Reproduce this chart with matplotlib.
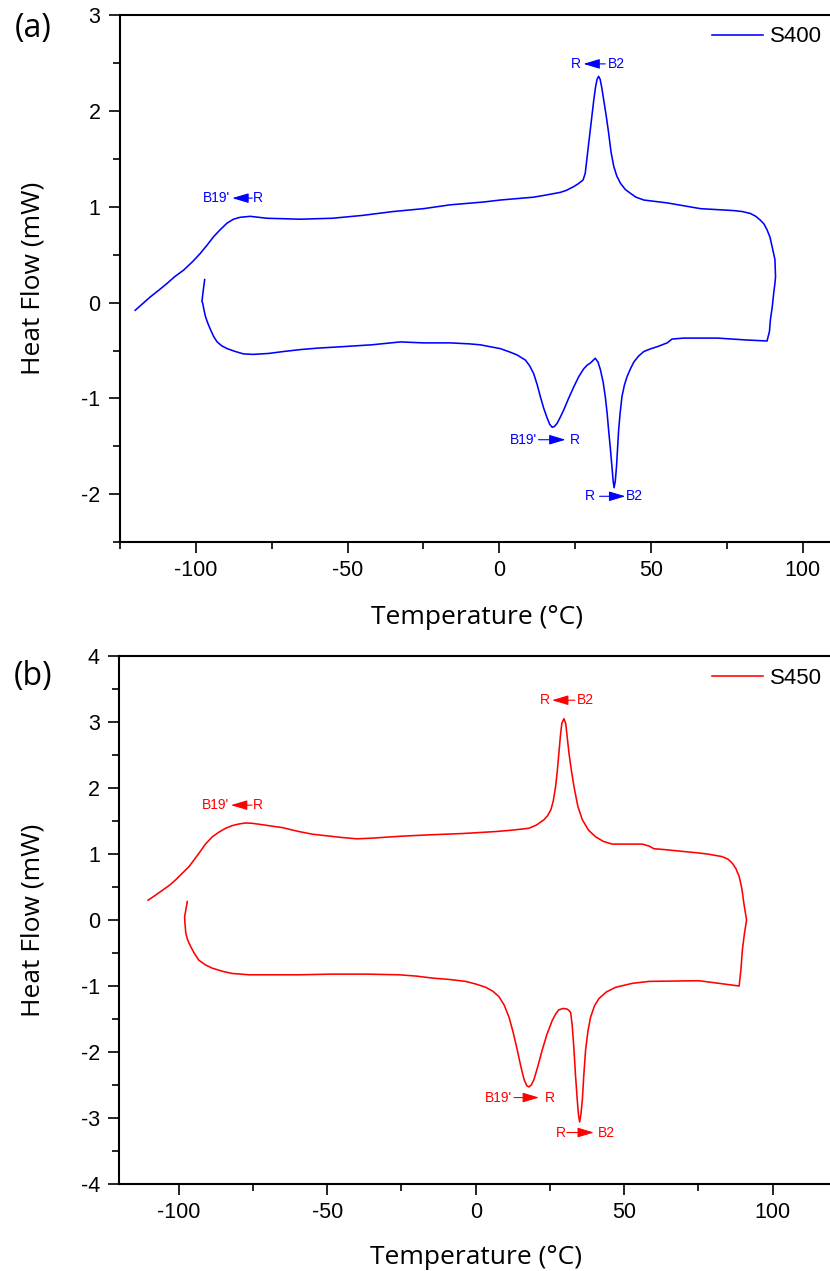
import matplotlib
matplotlib.use("Agg")
import matplotlib.pyplot as plt
from matplotlib.ticker import MultipleLocator

plt.rcParams["axes.unicode_minus"] = False
plt.rcParams["font.family"] = ["Liberation Sans", "DejaVu Sans"]

# ---- S400: heating run (lower branch) then cooling run (upper branch) ----
t_heat_s400 = [-97.1, -97.6, -98.0, -97.8, -97.3, -96.8, -96.0, -95.2, -94.2, -93.0,
               -91.5, -89.7, -87.0, -84.3, -81.0, -76.0, -71.1, -65.6, -60.0, -52.0,
               -42.0, -32.6, -25.0, -16.2, -10.0, -6.3, -3.0, 0.3, 3.0, 5.8,
               8.6, 10.0, 11.3, 12.5, 13.5, 14.6, 15.7, 16.6, 17.4, 18.2,
               19.0, 20.0, 21.2, 22.8, 24.5, 26.2, 27.8, 29.0, 30.0, 31.6,
               32.5, 33.3, 34.2, 34.9, 35.5, 36.0, 36.6, 37.1, 37.5, 37.8,
               38.2, 38.6, 39.0, 39.3, 39.8, 40.4, 41.2, 42.1, 43.2, 44.3,
               45.8, 47.6, 50.0, 52.0, 55.3, 56.9, 60.7, 71.8, 81.6, 88.2,
               89.0, 89.3, 89.9, 90.4, 90.8, 91.0]
hf_heat_s400 = [0.24, 0.12, 0.01, 0.0, -0.08, -0.15, -0.22, -0.28, -0.35, -0.41,
                -0.45, -0.48, -0.51, -0.535, -0.54, -0.53, -0.51, -0.49, -0.475, -0.46,
                -0.44, -0.41, -0.42, -0.42, -0.43, -0.44, -0.46, -0.48, -0.51, -0.545,
                -0.60, -0.66, -0.74, -0.86, -0.98, -1.10, -1.20, -1.27, -1.30, -1.29,
                -1.26, -1.20, -1.12, -1.00, -0.88, -0.77, -0.69, -0.65, -0.63, -0.58,
                -0.62, -0.70, -0.83, -0.98, -1.15, -1.33, -1.53, -1.71, -1.86, -1.93,
                -1.86, -1.71, -1.50, -1.33, -1.15, -0.98, -0.86, -0.77, -0.69, -0.62,
                -0.56, -0.51, -0.48, -0.46, -0.42, -0.38, -0.37, -0.37, -0.39, -0.40,
                -0.30, -0.18, -0.05, 0.10, 0.20, 0.27]
t_cool_s400 = [90.8, 89.9, 89.2, 88.2, 87.2, 86.0, 84.5, 82.7, 80.0, 77.2,
               66.3, 55.3, 47.6, 45.0, 43.2, 41.5, 39.9, 38.7, 37.7, 36.8,
               36.0, 35.2, 34.4, 33.7, 33.2, 32.7, 32.2, 31.7, 31.1, 30.5,
               29.8, 29.1, 28.3, 27.6, 26.0, 24.5, 22.0, 20.1, 15.0, 11.3,
               0.3, -5.0, -16.2, -25.0, -35.0, -45.0, -55.0, -65.6, -76.6, -82.1,
               -85.4, -87.6, -89.7, -92.0, -94.1, -96.3, -98.5, -101.0, -104.0, -107.0,
               -109.5, -112.0, -115.0, -117.5, -120.0]
hf_cool_s400 = [0.45, 0.58, 0.68, 0.76, 0.82, 0.86, 0.90, 0.93, 0.95, 0.96,
                0.98, 1.04, 1.07, 1.10, 1.14, 1.18, 1.245, 1.32, 1.42, 1.57,
                1.77, 1.95, 2.11, 2.25, 2.33, 2.36, 2.33, 2.25, 2.11, 1.95,
                1.77, 1.57, 1.35, 1.28, 1.24, 1.21, 1.17, 1.15, 1.12, 1.10,
                1.07, 1.05, 1.02, 0.98, 0.95, 0.91, 0.88, 0.87, 0.88, 0.90,
                0.89, 0.87, 0.83, 0.76, 0.69, 0.60, 0.515, 0.43, 0.34, 0.27,
                0.20, 0.135, 0.06, -0.01, -0.08]

# ---- S450 ----
t_heat_s450 = [-97.1, -97.6, -98.0, -97.9, -97.6, -97.0, -96.0, -94.8, -93.2, -91.0,
               -88.7, -85.0, -82.0, -76.3, -59.5, -48.3, -37.0, -25.8, -20.0, -14.6,
               -9.0, -3.4, 0.0, 3.4, 5.8, 7.8, 9.6, 11.2, 12.6, 14.0,
               15.2, 16.3, 17.2, 17.9, 18.7, 19.6, 20.9, 22.4, 24.0, 25.8,
               27.0, 28.0, 29.5, 30.8, 31.6, 32.0, 32.5, 33.1, 33.6, 34.2,
               34.6, 35.0, 35.4, 35.9, 36.4, 37.0, 37.8, 38.7, 40.0, 41.5,
               44.0, 47.1, 52.7, 58.4, 75.2, 88.7, 89.3, 89.8, 90.5, 91.2]
hf_heat_s450 = [0.28, 0.15, 0.05, -0.05, -0.20, -0.30, -0.40, -0.50, -0.61, -0.68,
                -0.73, -0.78, -0.81, -0.83, -0.83, -0.82, -0.82, -0.83, -0.85, -0.88,
                -0.90, -0.93, -0.97, -1.02, -1.08, -1.16, -1.29, -1.47, -1.70, -1.97,
                -2.22, -2.42, -2.51, -2.53, -2.50, -2.42, -2.22, -1.97, -1.73, -1.52,
                -1.42, -1.36, -1.34, -1.35, -1.38, -1.41, -1.60, -1.97, -2.35, -2.73,
                -2.95, -3.06, -2.95, -2.73, -2.35, -1.97, -1.68, -1.47, -1.30, -1.19,
                -1.09, -1.02, -0.96, -0.93, -0.92, -1.00, -0.75, -0.45, -0.20, 0.0]
t_cool_s450 = [90.3, 89.6, 88.7, 87.6, 86.4, 85.0, 83.0, 78.0, 74.1, 62.8,
               60.0, 58.4, 56.1, 46.0, 43.0, 40.4, 38.0, 35.9, 34.4, 33.1,
               32.2, 31.4, 30.8, 30.3, 29.7, 29.0, 28.5, 28.0, 27.5, 26.9,
               26.1, 25.3, 24.2, 23.0, 20.5, 17.9, 12.0, 6.7, -4.5, -15.7,
               -25.0, -35.0, -40.0, -45.0, -55.0, -59.5, -65.1, -75.2, -77.5, -79.7,
               -82.0, -84.2, -86.5, -88.7, -91.0, -93.2, -95.0, -96.5, -99.0, -101.0,
               -103.0, -105.5, -108.0, -110.3]
hf_cool_s450 = [0.25, 0.48, 0.66, 0.78, 0.86, 0.92, 0.96, 1.00, 1.02, 1.07,
                1.08, 1.12, 1.15, 1.15, 1.19, 1.26, 1.36, 1.52, 1.72, 2.02,
                2.27, 2.53, 2.78, 2.98, 3.05, 2.98, 2.78, 2.53, 2.27, 2.02,
                1.80, 1.67, 1.58, 1.52, 1.44, 1.39, 1.36, 1.34, 1.31, 1.29,
                1.27, 1.24, 1.23, 1.25, 1.30, 1.34, 1.40, 1.465, 1.47, 1.455,
                1.43, 1.39, 1.33, 1.26, 1.15, 1.01, 0.90, 0.81, 0.70, 0.61,
                0.53, 0.45, 0.37, 0.30]

# phase-transition labels: (left text, right text, left text end, arrow tail, arrow head, right text start, y)
labels_s400 = [("R", "B2", 26.7, 34.9, 27.7, 35.9, 2.49),
               ("B19'", "R", -88.7, -81.4, -88.0, -81.1, 1.09),
               ("B19'", "R", 12.4, 12.9, 21.8, 23.1, -1.43),
               ("R", "B2", 31.4, 33.0, 41.5, 41.8, -2.02)]
labels_s450 = [("R", "B2", 24.9, 33.4, 25.7, 34.1, 3.33),
               ("B19'", "R", -83.0, -75.3, -82.4, -75.0, 1.74),
               ("B19'", "R", 12.2, 12.9, 21.3, 23.2, -2.69),
               ("R", "B2", 30.3, 30.7, 39.8, 41.2, -3.22)]

W, H = 830, 1271
fig = plt.figure(figsize=(W / 100, H / 100), dpi=100)


def px_rect(left, top, right, bottom):
    return [left / W, 1 - bottom / H, (right - left) / W, (bottom - top) / H]


def panel(rect, t_heat, hf_heat, t_cool, hf_cool, color, name, xlim, ylim,
          labels, tag, tag_y, xlabel_y, ylabel_y, legend_y):
    ax = fig.add_axes(px_rect(*rect))
    ax.plot(list(t_heat) + list(t_cool), list(hf_heat) + list(hf_cool),
            color=color, lw=1.15, label=name, solid_joinstyle="round")
    ax.set_xlim(*xlim)
    ax.set_ylim(*ylim)
    ax.xaxis.set_major_locator(MultipleLocator(50))
    ax.xaxis.set_minor_locator(MultipleLocator(25))
    ax.yaxis.set_major_locator(MultipleLocator(1))
    ax.yaxis.set_minor_locator(MultipleLocator(0.5))
    ax.tick_params(which="both", direction="out", width=1.2, top=False, right=False)
    ax.tick_params(which="major", length=8, labelsize=15.5)
    ax.tick_params(axis="y", which="major", pad=6)
    ax.tick_params(axis="x", which="major", pad=5)
    ax.tick_params(which="minor", length=5)
    for s in ax.spines.values():
        s.set_linewidth(1.5)

    for left, right, x_le, x_tail, x_head, x_rs, y in labels:
        ax.text(x_le, y, left, color=color, fontsize=10, ha="right", va="center")
        ax.text(x_rs, y, right, color=color, fontsize=10, ha="left", va="center")
        ax.annotate("", xy=(x_head, y), xytext=(x_tail, y),
                    arrowprops=dict(arrowstyle="-|>,head_length=1.0,head_width=0.3",
                                    color=color, lw=0.8, shrinkA=0, shrinkB=0))

    ax.legend(loc="center left", bbox_to_anchor=(712 / W, 1 - legend_y / H),
              bbox_transform=fig.transFigure, frameon=False, fontsize=16,
              handlelength=2.3, handletextpad=0.3, borderpad=0, borderaxespad=0)

    fig.text(33 / W, 1 - tag_y / H, tag, fontsize=23, family=["Open Sans", "DejaVu Sans"],
             ha="center", va="center")
    fig.text((rect[0] + rect[2]) / 2 / W, 1 - xlabel_y / H, "Temperature (°C)",
             fontsize=19, family=["Open Sans", "DejaVu Sans"], ha="center", va="center")
    fig.text(33 / W, 1 - ylabel_y / H, "Heat Flow (mW)", rotation=90,
             fontsize=19, family=["Open Sans", "DejaVu Sans"], ha="center", va="center")
    return ax


panel((120, 15, 833.2, 542.3), t_heat_s400, hf_heat_s400, t_cool_s400, hf_cool_s400,
      "#0000FF", "S400", (-125, 110), (-2.5, 3), labels_s400, "(a)", 29, 617, 278, 37)
panel((119.3, 656, 832.1, 1184), t_heat_s450, hf_heat_s450, t_cool_s450, hf_cool_s450,
      "#FF0000", "S450", (-120, 120), (-4, 4), labels_s450, "(b)", 677, 1257, 920, 678)

fig.savefig("out.png", dpi=100)
